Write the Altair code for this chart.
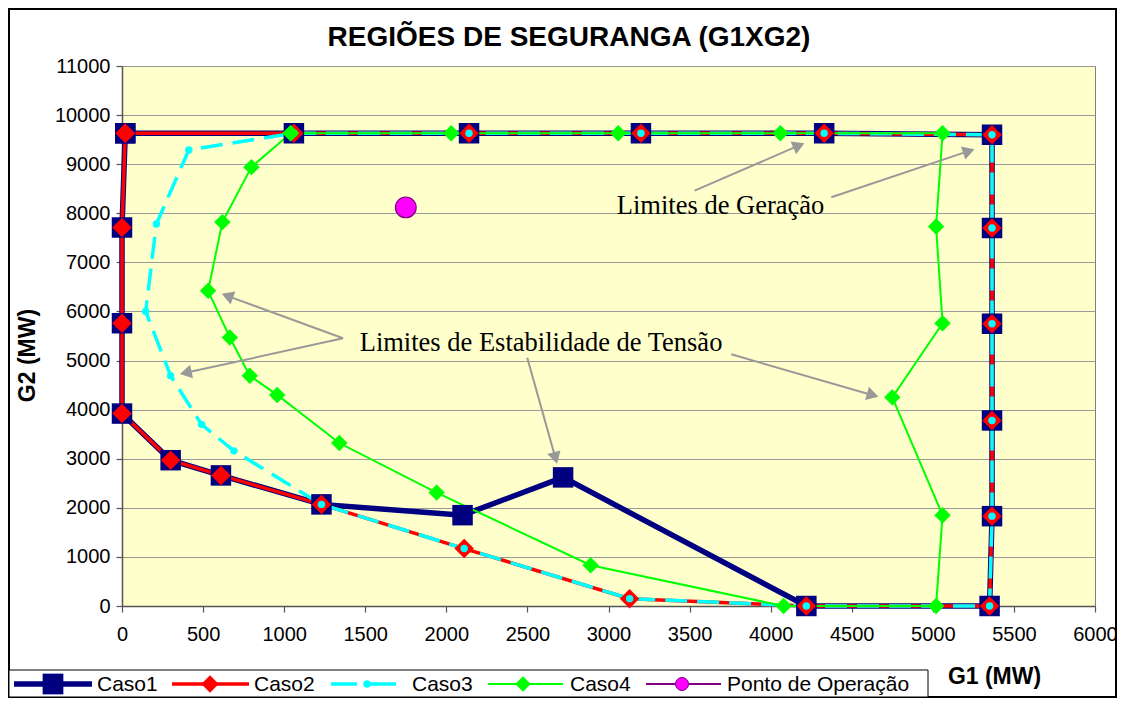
import math
import altair as alt
import pandas as pd

# ---------------- data ----------------
caso1_g1 = [20, 1060, 2140, 3200, 4330, 5365, 5365, 5365, 5365, 5365, 5350, 4220, 2720, 2100, 1230, 610, 300, 0, 0, 0, 20]
caso1_g2 = [9630, 9630, 9630, 9630, 9630, 9600, 7700, 5750, 3780, 1830, 0, 0, 2620, 1850, 2070, 2660, 2970, 3920, 5760, 7710, 9630]

caso2_g1 = [20, 1060, 2140, 3200, 4330, 5365, 5365, 5365, 5365, 5365, 5350, 4220, 3130, 2110, 1230, 610, 300, 0, 0, 0, 20]
caso2_g2 = [9630, 9630, 9630, 9630, 9630, 9600, 7700, 5750, 3780, 1830, 0, 0, 150, 1170, 2070, 2660, 2970, 3920, 5760, 7710, 9630]

caso3_g1 = [1060, 2140, 3200, 4330, 5365, 5365, 5365, 5365, 5365, 5350, 4220, 3130, 2110, 1230, 690, 490, 300, 146, 212, 412, 1060]
caso3_g2 = [9630, 9630, 9630, 9630, 9600, 7700, 5750, 3780, 1830, 0, 0, 150, 1170, 2070, 3160, 3700, 4690, 6000, 7780, 9290, 9630]

caso4_g1 = [1040, 2030, 3060, 4060, 5060, 5020, 5060, 4750, 5060, 5020, 4080, 2890, 1940, 1340, 957, 788, 665, 531, 619, 798, 1040]
caso4_g2 = [9630, 9630, 9630, 9630, 9630, 7730, 5760, 4250, 1850, 0, 0, 830, 2310, 3320, 4300, 4690, 5470, 6420, 7820, 8940, 9630]

ponto_g1 = [1750]
ponto_g2 = [8120]

x_ticks = list(range(0, 6001, 500))
y_ticks = list(range(0, 11001, 1000))

# annotations (data units)
ann_text = ["Limites de Geração", "Limites de Estabilidade de Tensão"]
ann_x = [3691, 2584]
ann_y = [7985, 5194]

arr_x1 = [3531, 4374, 1363, 1363, 2499, 3757]
arr_y1 = [8460, 8325, 5453, 5453, 5058, 5127]
arr_x2 = [4205, 5254, 618, 360, 2682, 4662]
arr_y2 = [9425, 9303, 6356, 4726, 2907, 4264]

legend_names = ["Caso1", "Caso2", "Caso3", "Caso4", "Ponto de Operação"]

# ---------------- layout ----------------
W, H = 973, 540
PAD = {"left": 114, "top": 58, "right": 22, "bottom": 92}
XMAX, YMAX = 6000, 11000
sx, sy = W / XMAX, H / YMAX

SANS = "Liberation Sans"
SERIF = "Liberation Serif"

xs = alt.Scale(domain=[0, XMAX], nice=False, zero=True)
ys = alt.Scale(domain=[0, YMAX], nice=False, zero=True)


def frame(g1, g2):
    return pd.DataFrame({"g1": g1, "g2": g2, "i": list(range(len(g1)))})


def enc(ch, axis=False):
    if axis:
        return ch.encode(
            x=alt.X("g1:Q", scale=xs,
                    axis=alt.Axis(values=x_ticks, format="d", title="G1 (MW)", grid=False,
                                  titleX=872, titleY=77, titleAlign="center",
                                  titleBaseline="alphabetic")),
            y=alt.Y("g2:Q", scale=ys,
                    axis=alt.Axis(values=y_ticks, format="d", title="G2 (MW)", grid=True,
                                  titleX=-88, titleY=289, titleAlign="center",
                                  titleAngle=270, titleBaseline="alphabetic")),
            order="i:Q",
        )
    return ch.encode(x=alt.X("g1:Q", scale=xs), y=alt.Y("g2:Q", scale=ys), order="i:Q")


d1, d2, d3, d4 = frame(caso1_g1, caso1_g2), frame(caso2_g1, caso2_g2), frame(caso3_g1, caso3_g2), frame(caso4_g1, caso4_g2)
dp = frame(ponto_g1, ponto_g2)

NAVY, RED, CYAN, GREEN, MAG, PURP = "#000080", "#FF0000", "#00FFFF", "#00FF00", "#FF00FF", "#800080"

# outer frame of the whole chart
outer = alt.Chart(dp).mark_rect(filled=False, stroke="black", strokeWidth=2).encode(
    x=alt.value(-PAD["left"] + 1), x2=alt.value(W + PAD["right"] - 1),
    y=alt.value(-PAD["top"] + 1), y2=alt.value(H + PAD["bottom"] - 1))

l1 = enc(alt.Chart(d1).mark_line(color=NAVY, strokeWidth=5.5), axis=True)
l2 = enc(alt.Chart(d2).mark_line(color=RED, strokeWidth=3.5))
l3 = enc(alt.Chart(d3).mark_line(color=CYAN, strokeWidth=3.5, strokeDash=[22, 10]))
l4 = enc(alt.Chart(d4).mark_line(color=GREEN, strokeWidth=2))
p1 = enc(alt.Chart(d1).mark_point(shape="square", filled=True, color=NAVY, size=420, opacity=1))
p2 = enc(alt.Chart(d2).mark_point(shape="diamond", filled=True, color=RED, size=380, opacity=1))
p3 = enc(alt.Chart(d3).mark_point(shape="circle", filled=True, color=CYAN, size=55, opacity=1))
p4 = enc(alt.Chart(d4).mark_point(shape="diamond", filled=True, color=GREEN, size=270, opacity=1))
pp = enc(alt.Chart(dp).mark_point(shape="circle", filled=True, fill=MAG, stroke=PURP,
                                  strokeWidth=1.2, size=430, opacity=1))

# arrows
rows = []
for x1, y1, x2, y2 in zip(arr_x1, arr_y1, arr_x2, arr_y2):
    dxp, dyp = (x2 - x1) * sx, -(y2 - y1) * sy
    L = math.hypot(dxp, dyp)
    ux, uy = dxp / L, dyp / L
    ang = math.degrees(math.atan2(ux, -uy)) % 360
    hc = 5.5
    le = 9.0
    rows.append({
        "x1": x1, "y1": y1,
        "xe": x2 - ux * le / sx, "ye": y2 + uy * le / sy,
        "hx": x2 - ux * hc / sx, "hy": y2 + uy * hc / sy,
        "ang": ang,
    })
arr = pd.DataFrame(rows)
arrow_lines = alt.Chart(arr).mark_rule(color="#999999", strokeWidth=2).encode(
    x=alt.X("x1:Q", scale=xs), y=alt.Y("y1:Q", scale=ys),
    x2="xe:Q", y2="ye:Q")
arrow_heads = alt.Chart(arr).mark_point(shape="triangle-up", filled=True, color="#999999",
                                         size=190, opacity=1).encode(
    x=alt.X("hx:Q", scale=xs), y=alt.Y("hy:Q", scale=ys),
    angle=alt.Angle("ang:Q", scale=None))

ann = alt.Chart(pd.DataFrame({"t": ann_text, "x": ann_x, "y": ann_y})).mark_text(
    font=SERIF, fontSize=26.5, color="black", align="center", baseline="alphabetic").encode(
    x=alt.X("x:Q", scale=xs), y=alt.Y("y:Q", scale=ys), text="t:N")

# title
title = alt.Chart(dp).mark_text(text="REGIÕES DE SEGURANGA (G1XG2)", font=SANS, fontSize=28,
                                fontWeight="bold", align="center", baseline="alphabetic",
                                color="black").encode(x=alt.value(447), y=alt.value(-20))

# custom legend (pixel layout relative to the plot origin)
LY = 618
legend_parts = [
    alt.Chart(dp).mark_rect(fill="white", stroke="black", strokeWidth=1).encode(
        x=alt.value(-PAD["left"] + 1), x2=alt.value(806),
        y=alt.value(604), y2=alt.value(H + PAD["bottom"] - 1)),
]
leg_spec = [
    (legend_names[0], -108, -30, -69, -25, dict(color=NAVY, strokeWidth=5.5), dict(shape="square", color=NAVY, size=430)),
    (legend_names[1], 50, 127, 88, 132, dict(color=RED, strokeWidth=3.5), dict(shape="diamond", color=RED, size=300)),
    (legend_names[2], 209, 275, 245, 290, dict(color=CYAN, strokeWidth=3.5, strokeDash=[26, 13]), dict(shape="circle", color=CYAN, size=55)),
    (legend_names[3], 366, 441, 401, 448, dict(color=GREEN, strokeWidth=2), dict(shape="diamond", color=GREEN, size=240)),
    (legend_names[4], 524, 599, 560, 605, dict(color=PURP, strokeWidth=2), dict(shape="circle", color=MAG, size=170)),
]
for name, a, b, m, t, ls, ms in leg_spec:
    legend_parts.append(alt.Chart(dp).mark_rule(**ls).encode(
        x=alt.value(a), x2=alt.value(b), y=alt.value(LY)))
    extra = {"stroke": PURP, "strokeWidth": 1} if name == legend_names[4] else {}
    color = ms.pop("color")
    legend_parts.append(alt.Chart(dp).mark_point(filled=True, fill=color, opacity=1,
                                                 **({} if extra else {"color": color}),
                                                 **extra, **ms).encode(
        x=alt.value(m), y=alt.value(LY)))
    legend_parts.append(alt.Chart(dp).mark_text(text=name, font=SANS, fontSize=21, align="left",
                                                baseline="middle", color="black").encode(
        x=alt.value(t), y=alt.value(LY + 1)))

chart = alt.layer(
    outer, l1, l2, l3, l4, p1, p2, p3, p4, pp, arrow_lines, arrow_heads, ann, title, *legend_parts
).properties(
    width=W, height=H,
    autosize=alt.AutoSizeParams(type="none"),
    padding=PAD,
    background="white",
).configure_view(
    fill="#FFFFCC", stroke="#808080", strokeWidth=1,
).configure_axis(
    labelFont=SANS, labelFontSize=20, labelColor="black",
    titleFont=SANS, titleFontSize=23, titleFontWeight="bold", titleColor="black",
    tickColor="#555555", domainColor="#555555", domainWidth=1.5, tickSize=6, tickWidth=1.2,
    gridColor="#999999", gridWidth=1, gridOpacity=1,
).configure_axisX(labelPadding=12, labelFlush=False, labelOverlap=False
).configure_axisY(labelPadding=6, labelOverlap=False)

chart.save("out.html", embed_options={"renderer": "svg", "actions": False})
